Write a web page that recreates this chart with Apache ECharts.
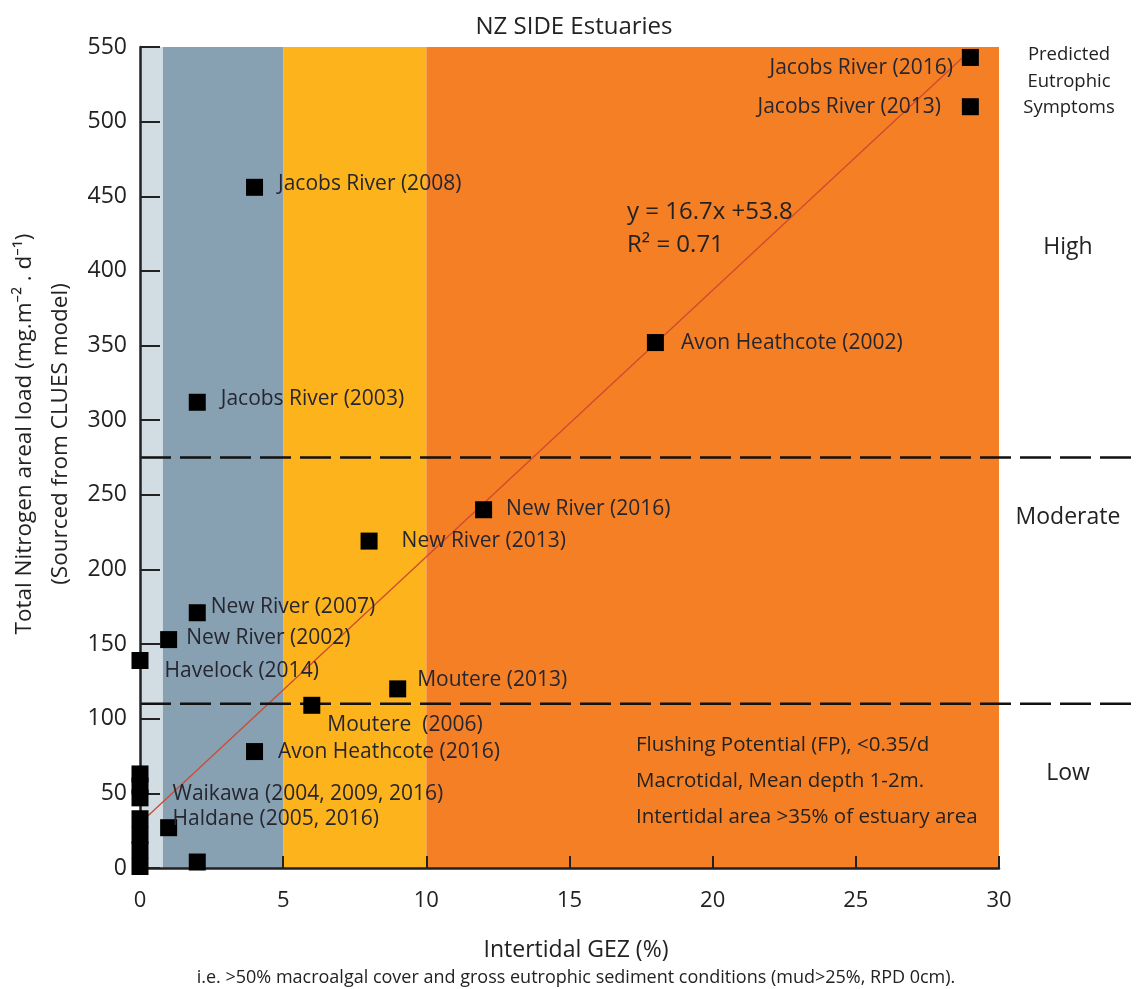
<!DOCTYPE html>
<html>
<head>
<meta charset="utf-8">
<script src="https://cdn.jsdelivr.net/npm/echarts@6/dist/echarts.min.js"></script>
<style>html,body{margin:0;padding:0;background:#fff;}#c{width:1138px;height:989px;}</style>
</head>
<body>
<div id="c"></div>
<script>
// ---- data ----
const pointNames = [
  'Jacobs River (2016)', 'Jacobs River (2013)', 'Jacobs River (2008)', 'Jacobs River (2003)',
  'Avon Heathcote (2002)', 'New River (2016)', 'New River (2013)', 'New River (2007)',
  'New River (2002)', 'Havelock (2014)', 'Moutere (2013)', 'Moutere  (2006)',
  'Avon Heathcote (2016)', 'Waikawa (2004, 2009, 2016)', '', '',
  'Haldane (2005, 2016)', '', '', '', '', ''
];
const pointX = [29, 29, 4, 2, 18, 12, 8, 2, 1, 0, 9, 6, 4, 0, 0, 0, 0, 0, 0, 0, 1, 2];
const pointY = [543, 510, 456, 312, 352, 240, 219, 171, 153, 139, 120, 109, 78, 47, 55, 63, 33, 22, 12, 1, 27, 4];
const trendX = [0, 28.9];
const trendY = [30, 546];
const thresholdY = [275, 110];
const bandStart = [0, 0.8, 5, 10];
const bandEnd = [0.8, 5, 10, 30];
const bandColors = ['#d2dce3', '#87a1b2', '#fdb31c', '#f47f24'];
const xTicks = [0, 5, 10, 15, 20, 25, 30];
const yTicks = [0, 50, 100, 150, 200, 250, 300, 350, 400, 450, 500, 550];

// label placement per point (style only)
const labelPos = [
  {position:'left', distance:9, offset:[0,11]},
  {position:'left', distance:21, offset:[0,0]},
  {position:'right', distance:15, offset:[0,-3]},
  {position:'right', distance:15, offset:[0,-3]},
  {position:'right', distance:17, offset:[0,0]},
  {position:'right', distance:14, offset:[0,-1]},
  {position:'right', distance:24, offset:[0,0]},
  {position:'right', distance:5, offset:[0,-6]},
  {position:'right', distance:9, offset:[0,-2]},
  {position:'right', distance:16, offset:[0,11]},
  {position:'right', distance:11, offset:[0,-9]},
  {position:'right', distance:7, offset:[0,20]},
  {position:'right', distance:15, offset:[0,0]},
  {position:'right', distance:24, offset:[0,-4]},
  null, null,
  {position:'right', distance:24, offset:[0,0]},
  null, null, null, null, null
];

const FONT = '"Open Sans", "Noto Sans", sans-serif';
const TXT = '#222';
const chart = echarts.init(document.getElementById('c'));

const scatterData = pointX.map((x, i) => {
  const item = { value: [x, pointY[i]], name: pointNames[i] };
  if (pointNames[i] && labelPos[i]) {
    item.label = Object.assign({ show: true, formatter: pointNames[i] }, labelPos[i]);
  }
  return item;
});

const bandData = bandStart.map((s, i) => [s, bandEnd[i], i]);

chart.setOption({
  animation: false,
  title: {
    text: 'NZ SIDE Estuaries', left: 569, top: 10, textAlign: 'center',
    textStyle: { fontFamily: FONT, fontSize: 24, fontWeight: 'normal', color: TXT }
  },
  grid: { left: 140, right: 139, top: 47, bottom: 121 },
  xAxis: {
    type: 'value', min: 0, max: 30, interval: 5, z: 10,
    axisLine: { lineStyle: { color: '#222', width: 2.5 } },
    axisTick: { inside: true, length: 12, lineStyle: { color: '#222', width: 2 } },
    axisLabel: { fontFamily: FONT, fontSize: 22, color: TXT, margin: 22,
      formatter: v => xTicks.includes(v) ? String(v) : '' },
    splitLine: { show: false }
  },
  yAxis: {
    type: 'value', min: 0, max: 550, interval: 50, z: 10,
    axisLine: { show: true, lineStyle: { color: '#222', width: 2.5 } },
    axisTick: { show: true, inside: true, length: 20, lineStyle: { color: '#222', width: 2 } },
    axisLabel: { fontFamily: FONT, fontSize: 23, color: TXT, margin: 13,
      formatter: v => yTicks.includes(v) ? String(v) : '' },
    splitLine: { show: false }
  },
  series: [
    {
      type: 'custom', silent: true, z: 0,
      data: bandData,
      encode: { x: [0, 1] },
      renderItem: (params, api) => {
        const p0 = api.coord([api.value(0), 550]);
        const p1 = api.coord([api.value(1), 0]);
        return {
          type: 'rect',
          shape: { x: p0[0], y: p0[1], width: p1[0] - p0[0], height: p1[1] - p0[1] },
          style: { fill: bandColors[api.value(2)] }
        };
      }
    },
    {
      type: 'line', silent: true, symbol: 'none', z: 3,
      data: trendX.map((x, i) => [x, trendY[i]]),
      lineStyle: { color: '#cc4b32', width: 1.3 }
    },
    {
      type: 'scatter', symbol: 'rect', symbolSize: 17, z: 12, clip: false,
      itemStyle: { color: '#000', opacity: 1 },
      label: { fontFamily: FONT, fontSize: 21, color: '#262630' },
      data: scatterData
    }
  ]
});

// threshold dashed lines and annotations
const x0 = chart.convertToPixel({ gridIndex: 0 }, [0, 0])[0];
const graphics = thresholdY.map(v => {
  const py = chart.convertToPixel({ gridIndex: 0 }, [0, v])[1];
  return {
    type: 'line', z: 10,
    shape: { x1: x0, y1: py, x2: 1138, y2: py },
    style: { stroke: '#111', lineWidth: 2.6, lineDash: [31, 9] }
  };
});
const txt = (x, y, text, size, align) => ({
  type: 'text', z: 20, x: x, y: y,
  style: { text: text, fontFamily: FONT, fontSize: size, fill: TXT,
    textAlign: align || 'left', textVerticalAlign: 'middle' }
});
graphics.push(
  txt(627, 212, 'y = 16.7x +53.8', 24),
  txt(627, 245, 'R² = 0.71', 24),
  txt(636, 745, 'Flushing Potential (FP), <0.35/d', 20.5),
  txt(636, 781, 'Macrotidal, Mean depth 1-2m.', 20.5),
  txt(636, 817, 'Intertidal area >35% of estuary area', 20.5),
  txt(1069, 55, 'Predicted', 18.5, 'center'),
  txt(1069, 82, 'Eutrophic', 18.5, 'center'),
  txt(1069, 108, 'Symptoms', 18.5, 'center'),
  txt(1068, 247, 'High', 23, 'center'),
  txt(1068, 517, 'Moderate', 23, 'center'),
  txt(1068, 773, 'Low', 23, 'center'),
  txt(576, 950, 'Intertidal GEZ (%)', 23, 'center'),
  txt(576, 978, 'i.e. >50% macroalgal cover and gross eutrophic sediment conditions (mud>25%, RPD 0cm).', 18, 'center'),
  {
    type: 'text', z: 20, x: 25, y: 434, rotation: Math.PI / 2,
    style: { text: 'Total Nitrogen areal load (mg.m⁻² . d⁻¹)', fontFamily: FONT, fontSize: 22.5, fill: TXT,
      textAlign: 'center', textVerticalAlign: 'middle' }
  },
  {
    type: 'text', z: 20, x: 61, y: 434, rotation: Math.PI / 2,
    style: { text: '(Sourced from CLUES model)', fontFamily: FONT, fontSize: 22.5, fill: TXT,
      textAlign: 'center', textVerticalAlign: 'middle' }
  }
);
chart.setOption({ graphic: graphics });
</script>
</body>
</html>
